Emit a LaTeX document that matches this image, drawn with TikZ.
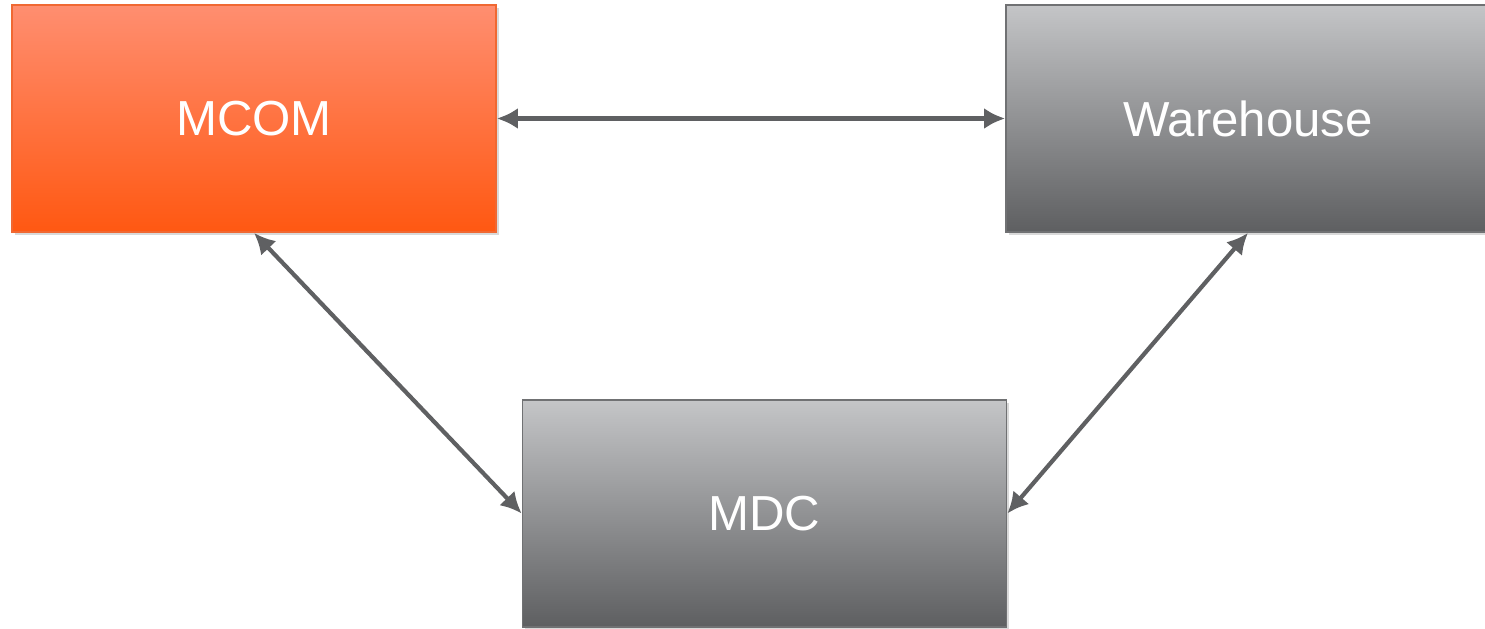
\documentclass[tikz,border=0pt]{standalone}
\usepackage{fontspec}
\setmainfont{Liberation Sans}
\usetikzlibrary{arrows.meta,shadows}

\definecolor{mcomTop}{RGB}{255,142,112}
\definecolor{mcomBottom}{RGB}{255,88,18}
\definecolor{mcomLine}{RGB}{240,104,50}
\definecolor{greyTop}{RGB}{196,197,199}
\definecolor{greyBottom}{RGB}{94,95,97}
\definecolor{greyLine}{RGB}{112,113,115}
\definecolor{linkColor}{RGB}{95,96,98}

\tikzset{
  block/.style={draw, line width=1pt, minimum width=9.68cm, minimum height=4.54cm,
    inner sep=0pt, text=white, font=\fontsize{28}{34}\selectfont,
    drop shadow={opacity=0.3, shadow xshift=1.5pt, shadow yshift=-1.5pt}},
  orangeblock/.style={block, draw=mcomLine, top color=mcomTop, bottom color=mcomBottom},
  greyblock/.style={block, draw=greyLine, top color=greyTop, bottom color=greyBottom},
  link/.style={draw=linkColor, line width=2.4pt,
    {Latex[length=12pt,width=12pt]}-{Latex[length=12pt,width=12pt]}}
}

\begin{document}
\begin{tikzpicture}[x=0.02cm, y=-0.02cm]
  \useasboundingbox (0,0) rectangle (1485,629);
  % Blocks
  \node[orangeblock] (mcom) at (254,118.5) {MCOM};
  \node[greyblock] (warehouse) at (1248,118.5) {Warehouse};
  \node[greyblock] (mdc) at (764.5,513.5) {MDC};
  % Links
  \draw[link] (mcom.east) -- (warehouse.west);
  \draw[link] (mcom.south) -- (mdc.west);
  \draw[link] (warehouse.south) -- (mdc.east);
\end{tikzpicture}
\end{document}
